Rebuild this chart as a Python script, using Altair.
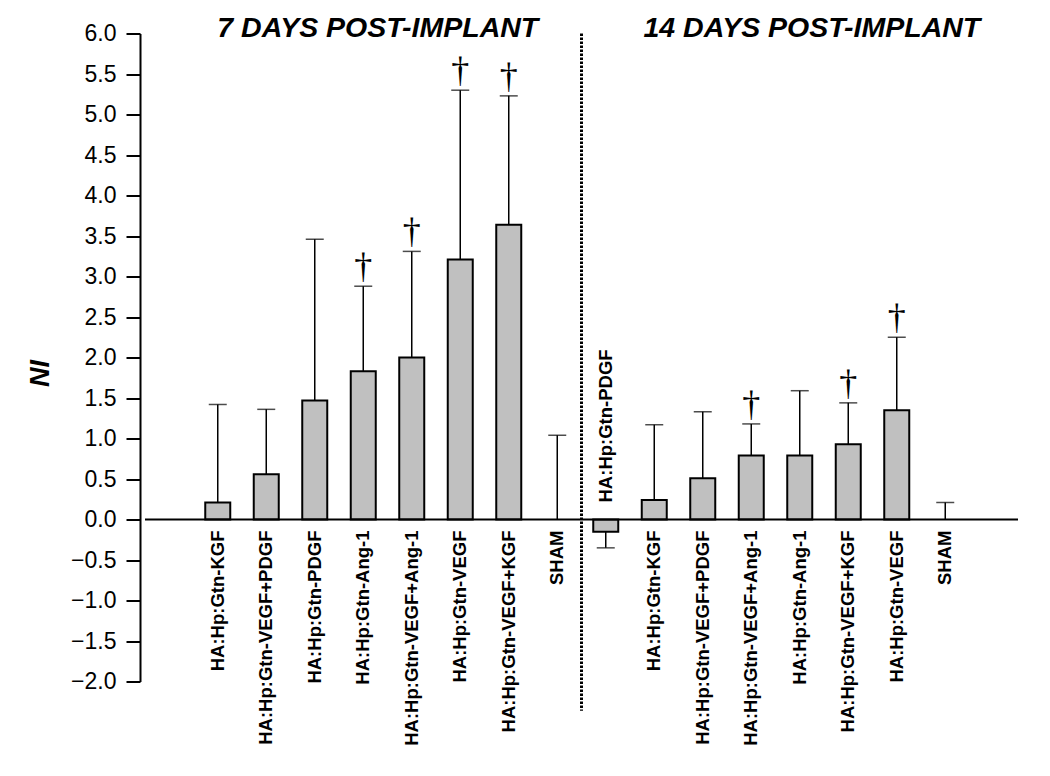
import altair as alt
import pandas as pd

# ---- data ----
labels7 = ["HA:Hp:Gtn-KGF", "HA:Hp:Gtn-VEGF+PDGF", "HA:Hp:Gtn-PDGF", "HA:Hp:Gtn-Ang-1",
           "HA:Hp:Gtn-VEGF+Ang-1", "HA:Hp:Gtn-VEGF", "HA:Hp:Gtn-VEGF+KGF", "SHAM"]
means7 = [0.21, 0.56, 1.47, 1.83, 2.00, 3.21, 3.64, 0.0]
err7 = [1.42, 1.36, 3.46, 2.88, 3.31, 5.30, 5.23, 1.04]
dag7 = [False, False, False, True, True, True, True, False]

labels14 = ["HA:Hp:Gtn-PDGF", "HA:Hp:Gtn-KGF", "HA:Hp:Gtn-VEGF+PDGF", "HA:Hp:Gtn-VEGF+Ang-1",
            "HA:Hp:Gtn-Ang-1", "HA:Hp:Gtn-VEGF+KGF", "HA:Hp:Gtn-VEGF", "SHAM"]
means14 = [-0.15, 0.24, 0.51, 0.79, 0.79, 0.93, 1.35, 0.0]
err14 = [-0.35, 1.17, 1.33, 1.18, 1.59, 1.44, 2.25, 0.21]
dag14 = [False, False, False, True, False, True, True, False]

group_titles = ["7 DAYS POST-IMPLANT", "14 DAYS POST-IMPLANT"]
title_pos = [3.3, 12.25]
title_y = [6.07, 6.07]

y_ticks = [round(-2.0 + 0.25 * i, 2) for i in range(33)]

labels = labels7 + labels14
means = means7 + means14
errs = err7 + err14
dags = dag7 + dag14
df = pd.DataFrame({
    "pos": list(range(len(labels))),
    "label": labels,
    "mean": means,
    "err": errs,
    "dagger": dags,
    "zero": [0.0] * len(labels),
})
titles_df = pd.DataFrame({"pos": title_pos, "y": title_y, "text": group_titles})
sep_df = pd.DataFrame({"pos": [7.5], "y1": [6.0], "y2": [-2.36]})
base_df = pd.DataFrame({"x1": [-1.5], "x2": [16.5], "y": [0.0]})

xs = alt.Scale(domain=[-1.5, 16.5], nice=False, zero=False)
ys = alt.Scale(domain=[-2.0, 6.0], nice=False, zero=False)
X = alt.X("pos:Q", scale=xs, axis=None)

is_major = "abs(datum.value * 2 - round(datum.value * 2)) < 0.01"
y_axis = alt.Axis(
    values=y_ticks,
    labelExpr="abs(datum.value * 2 - round(datum.value * 2)) < 0.01 ? format(datum.value, '.1f') : ''",
    tickSize={"condition": {"test": is_major, "value": 14}, "value": 8},
    tickWidth=2, domainWidth=2, domainColor="black", tickColor="black",
    labelFont="Liberation Sans", labelFontSize=23, labelColor="black", labelPadding=10,
    grid=False, title="NI", titleFont="Liberation Sans", titleFontSize=27,
    titleFontWeight="bold", titleFontStyle="italic", titleColor="black",
    titleX=-100, titleY=339.5, titleAlign="center", titleBaseline="middle",
    titleAngle=270, orient="left")

bars = alt.Chart(df).transform_filter("datum.mean != 0").mark_bar(
    size=25, fill="#c0c0c0", stroke="black", strokeWidth=2
).encode(x=X, y=alt.Y("mean:Q", scale=ys, axis=y_axis), y2="zero:Q")

err_rule = alt.Chart(df).mark_rule(color="black", strokeWidth=1.5).encode(
    x=X, y=alt.Y("mean:Q", scale=ys), y2="err:Q")

caps = alt.Chart(df).mark_tick(orient="horizontal", size=18, thickness=1.5, color="black").encode(
    x=X, y=alt.Y("err:Q", scale=ys))

daggers = alt.Chart(df).transform_filter("datum.dagger").mark_text(
    text="\u2020", font="Liberation Serif", fontSize=36, baseline="alphabetic", dy=-8, color="black"
).encode(x=X, y=alt.Y("err:Q", scale=ys))

lab_below = alt.Chart(df).transform_filter("datum.mean >= 0").mark_text(
    angle=270, align="right", baseline="middle", fontWeight="bold", fontSize=18.5,
    font="Liberation Sans", dx=-11, color="black"
).encode(x=X, y=alt.Y("zero:Q", scale=ys), text="label:N")

lab_above = alt.Chart(df).transform_filter("datum.mean < 0").mark_text(
    angle=270, align="left", baseline="middle", fontWeight="bold", fontSize=18.5,
    font="Liberation Sans", dx=17, color="black"
).encode(x=X, y=alt.Y("zero:Q", scale=ys), text="label:N")

titles = alt.Chart(titles_df).mark_text(
    fontWeight="bold", fontStyle="italic", fontSize=28.5, font="Liberation Sans",
    baseline="middle", align="center", color="black"
).encode(x=alt.X("pos:Q", scale=xs, axis=None), y=alt.Y("y:Q", scale=ys), text="text:N")

sep = alt.Chart(sep_df).mark_rule(color="black", strokeWidth=3, strokeDash=[2.5, 1.5]).encode(
    x=alt.X("pos:Q", scale=xs, axis=None), y=alt.Y("y1:Q", scale=ys), y2="y2:Q")

baseline = alt.Chart(base_df).mark_rule(color="black", strokeWidth=2).encode(
    x=alt.X("x1:Q", scale=xs, axis=None), x2="x2:Q", y=alt.Y("y:Q", scale=ys))

chart = alt.layer(
    bars, err_rule, caps, daggers, baseline, sep, lab_below, lab_above, titles
).properties(
    width=883, height=648,
    background="white",
    autosize=alt.AutoSizeParams(type="none"),
    padding={"left": 132, "top": 25.5, "right": 19, "bottom": 86},
).configure_view(strokeWidth=0, stroke=None)

chart.save("out.html", embed_options={"renderer": "svg", "actions": False})
